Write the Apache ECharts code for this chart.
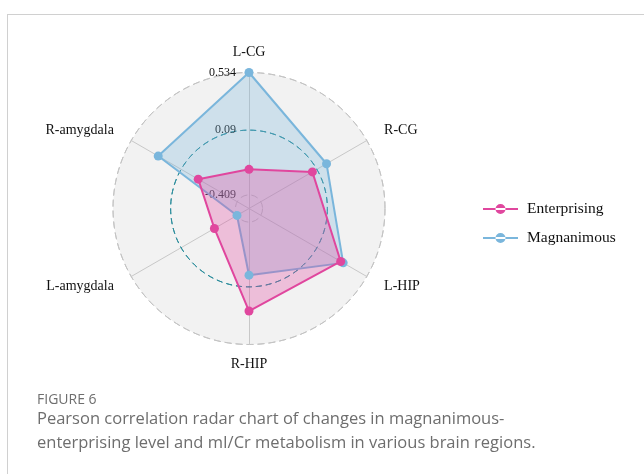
<!DOCTYPE html>
<html><head><meta charset="utf-8">
<script src="https://cdn.jsdelivr.net/npm/echarts@6/dist/echarts.min.js"></script>
<style>
html,body{margin:0;padding:0;background:#fff;overflow:hidden;}
#frame{position:absolute;left:7px;top:14px;width:720px;height:540px;border:1px solid #d0d0d0;box-sizing:border-box;}
#chart{position:absolute;left:0;top:0;width:644px;height:474px;}
</style></head><body>
<div id="frame"></div><div id="chart"></div>
<script>
// Indicators in ECharts (counter-clockwise from top) order
const indicators = ['L-CG', 'R-amygdala', 'L-amygdala', 'R-HIP', 'L-HIP', 'R-CG'];
const enterprising = [-0.212, -0.062, -0.206, 0.276, 0.302, 0.050];
const magnanimous = [0.534, 0.294, -0.407, 0.0, 0.324, 0.176];
const gridValues = [-0.409, 0.09, 0.534];
const gridLabels = ['-0.409', '0.09', '0.534'];
const seriesNames = ['Enterprising', 'Magnanimous'];

const colors = { Enterprising: '#e0479e', Magnanimous: '#7ab6dc' };
const gMin = gridValues[0], gMax = gridValues[2];
const centreValue = gMin - (gMax - gMin) / 9;
const R = 136;
const CENTER = [249, 208.5];
const serif = "'Liberation Serif', 'Times New Roman', serif";

const nameGaps = [13, 20, 20, 13, 20, 20];

function makeRadar(k) {
  const maxV = gridValues[k];
  const rad = R * (maxV - centreValue) / (gMax - centreValue);
  const isOuter = k === 2;
  const lineColor = k === 1 ? '#2b8d9c' : '#c3c3c3';
  return {
    center: CENTER,
    radius: rad,
    shape: 'circle',
    splitNumber: 1,
    startAngle: 90,
    axisName: {
      show: isOuter,
      color: '#111',
      fontFamily: serif,
      fontSize: 14
    },
    nameGap: 20,
    indicator: indicators.map((n, i) => {
      const ind = { name: n, min: centreValue, max: maxV };
      if (isOuter) ind.nameGap = nameGaps[i];
      if (i === 0) {
        ind.axisLabel = {
          show: true,
          showMinLabel: false,
          margin: 13,
          color: '#111',
          fontFamily: serif,
          fontSize: 12,
          formatter: (v, idx) => idx === 0 ? '' : gridLabels[k]
        };
      }
      return ind;
    }),
    axisLabel: { show: false },
    axisTick: { show: false },
    axisLine: { show: isOuter, lineStyle: { color: '#c8c8c8', width: 1 } },
    splitLine: {
      show: true,
      lineStyle: { color: lineColor, width: 1, type: k === 1 ? [6, 4] : [7, 4] }
    },
    splitArea: isOuter ? { show: true, areaStyle: { color: ['#f2f2f2', '#f2f2f2'] } } : { show: false },
    silent: true,
    z: isOuter ? 1 : 2
  };
}

const radars = [makeRadar(2), makeRadar(1), makeRadar(0)];

function makeSeries(name, values) {
  const c = colors[name];
  return {
    name: name,
    type: 'radar',
    radarIndex: 0,
    symbol: 'circle',
    symbolSize: 9,
    z: 3,
    lineStyle: { color: c, width: 2 },
    itemStyle: { color: c },
    areaStyle: { color: c, opacity: 0.3 },
    data: [{ name: name, value: values }]
  };
}

const legendIcon = 'path://M0,4H35V6H0Z M12.5,5A5,5 0 1,0 22.5,5A5,5 0 1,0 12.5,5Z';

const option = {
  animation: false,
  backgroundColor: 'transparent',
  textStyle: { fontFamily: serif },
  title: [
    { text: 'FIGURE 6', left: 32, top: 388,
      textStyle: { fontFamily: 'Open Sans', fontSize: 14, fontWeight: 'normal', color: '#6e6e6e' } },
    { text: 'Pearson correlation radar chart of changes in magnanimous-\nenterprising level and mI/Cr metabolism in various brain regions.',
      left: 32, top: 402,
      textStyle: { fontFamily: 'Open Sans', fontSize: 16.5, lineHeight: 24.5, fontWeight: 'normal', color: '#6e6e6e' } }
  ],
  legend: {
    orient: 'vertical',
    left: 478,
    top: 196,
    itemWidth: 35,
    itemHeight: 10,
    itemGap: 13,
    icon: legendIcon,
    data: seriesNames,
    textStyle: { fontFamily: serif, fontSize: 15.5, color: '#111', padding: [0, 0, 0, 4] }
  },
  radar: radars,
  series: [makeSeries('Magnanimous', magnanimous), makeSeries('Enterprising', enterprising)]
};

const chart = echarts.init(document.getElementById('chart'), null, { renderer: 'canvas' });
chart.setOption(option);
</script>
</body></html>
